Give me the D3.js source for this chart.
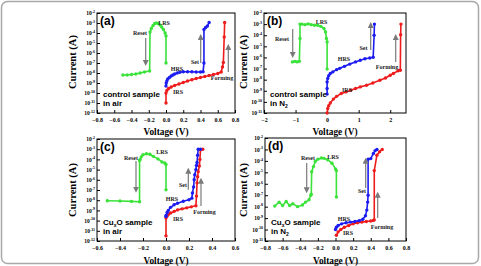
<!DOCTYPE html>
<html>
<head>
<meta charset="utf-8">
<script src="https://d3js.org/d3.v7.min.js"></script>
<style>
  body { margin: 0; background: #fff; }
  svg text { font-family: "Liberation Serif", "Times New Roman", serif; font-weight: bold; }
  .sans { font-family: "Liberation Sans", Arial, sans-serif !important; }
</style>
</head>
<body>
<script>
// ---- data (voltage in V, current as log10(A)) ----
var aGreenV = [0.0, 0.0, -0.01, -0.03, -0.05, -0.07, -0.09, -0.11, -0.13, -0.15, -0.17, -0.185, -0.19, -0.25, -0.3, -0.35, -0.4, -0.45, -0.5];
var aGreenI = [-7.0, -4.3, -4.0, -3.65, -3.4, -3.2, -3.05, -3.0, -3.05, -3.25, -3.55, -3.9, -7.8, -7.9, -8.0, -8.1, -8.15, -8.2, -8.2];
var aBlueV = [0.0, 0.003, 0.01, 0.02, 0.04, 0.06, 0.08, 0.1, 0.13, 0.16, 0.2, 0.25, 0.3, 0.35, 0.4, 0.43, 0.44, 0.44, 0.46, 0.48, 0.5];
var aBlueI = [-9.3, -9.0, -8.8, -8.6, -8.45, -8.3, -8.2, -8.1, -8.0, -7.92, -7.87, -7.87, -7.88, -7.9, -7.9, -7.88, -7.0, -3.65, -3.45, -3.3, -2.95];
var aRedV = [0.0, 0.0, 0.01, 0.03, 0.06, 0.1, 0.15, 0.2, 0.25, 0.3, 0.35, 0.4, 0.45, 0.5, 0.55, 0.6, 0.64, 0.655, 0.665, 0.675, 0.68];
var aRedI = [-11.0, -10.0, -9.75, -9.55, -9.4, -9.25, -9.1, -8.95, -8.8, -8.68, -8.55, -8.45, -8.35, -8.25, -8.15, -8.05, -7.9, -7.4, -6.95, -4.4, -2.95];

var bGreenV = [0.0, 0.0, -0.02, -0.05, -0.1, -0.2, -0.3, -0.4, -0.5, -0.6, -0.7, -0.8, -0.86, -0.86, -0.88, -0.95, -1.02, -1.1];
var bGreenI = [-7.05, -4.6, -4.3, -3.7, -3.4, -3.2, -3.1, -3.1, -3.05, -2.98, -3.05, -3.0, -3.0, -4.3, -6.35, -6.4, -6.35, -6.4];
var bBlueV = [0.0, 0.0, 0.0, 0.02, 0.05, 0.1, 0.18, 0.3, 0.4, 0.55, 0.72, 0.9, 1.05, 1.2, 1.35, 1.46, 1.49, 1.5];
var bBlueI = [-9.3, -8.8, -8.2, -7.9, -7.65, -7.45, -7.3, -7.1, -6.98, -6.8, -6.6, -6.4, -6.25, -6.12, -6.05, -5.98, -4.0, -3.0];
var bRedV = [0.0, 0.02, 0.05, 0.1, 0.2, 0.3, 0.45, 0.6, 0.75, 0.9, 1.05, 1.25, 1.45, 1.67, 1.85, 2.0, 2.1, 2.25, 2.32, 2.33, 2.34];
var bRedI = [-11.0, -10.6, -10.35, -10.1, -9.75, -9.5, -9.25, -9.1, -8.95, -8.8, -8.65, -8.5, -8.3, -8.05, -7.85, -7.6, -7.45, -7.2, -7.15, -3.95, -3.0];

var cGreenV = [0.0, 0.0, -0.01, -0.035, -0.07, -0.11, -0.14, -0.17, -0.2, -0.215, -0.225, -0.23, -0.23, -0.3, -0.4, -0.51];
var cGreenI = [-6.97, -4.5, -4.35, -4.25, -3.95, -3.7, -3.5, -3.45, -3.55, -3.75, -4.0, -4.1, -8.15, -8.12, -8.08, -8.05];
var cBlueV = [0.0, 0.0, 0.01, 0.02, 0.04, 0.07, 0.1, 0.15, 0.2, 0.225, 0.23, 0.24, 0.245, 0.25, 0.26, 0.265, 0.27, 0.275, 0.28, 0.3];
var cBlueI = [-9.6, -9.5, -9.2, -9.0, -8.7, -8.45, -8.3, -8.1, -7.95, -7.8, -7.3, -6.7, -6.0, -5.5, -5.0, -4.6, -4.3, -3.6, -3.0, -3.0];
var cRedV = [0.0, 0.0, 0.01, 0.02, 0.04, 0.07, 0.1, 0.14, 0.18, 0.22, 0.26, 0.265, 0.27, 0.275, 0.28, 0.29, 0.295, 0.3, 0.32];
var cRedI = [-11.5, -9.75, -9.55, -9.4, -9.25, -9.1, -8.95, -8.85, -8.75, -8.65, -8.55, -7.6, -6.3, -5.7, -5.2, -4.65, -4.0, -3.05, -3.0];

var dGreenV = [0.01, 0.01, 0.0, -0.04, -0.09, -0.13, -0.16, -0.2, -0.23, -0.25, -0.27, -0.275, -0.28, -0.3, -0.34, -0.375, -0.43, -0.485, -0.52, -0.56, -0.6, -0.64, -0.69];
var dGreenI = [-7.15, -4.85, -4.7, -4.2, -3.9, -3.78, -3.75, -3.85, -4.05, -4.5, -4.95, -6.9, -7.0, -7.4, -7.6, -7.85, -8.0, -7.75, -7.9, -7.55, -7.9, -7.6, -7.95];
var dBlueV = [0.0, 0.01, 0.03, 0.07, 0.12, 0.17, 0.22, 0.27, 0.31, 0.34, 0.355, 0.365, 0.37, 0.37, 0.4, 0.43, 0.45, 0.47];
var dBlueI = [-10.0, -9.8, -9.65, -9.5, -9.4, -9.35, -9.3, -9.22, -9.1, -8.8, -8.3, -7.6, -7.0, -3.85, -3.8, -3.35, -3.1, -3.0];
var dRedV = [0.01, 0.03, 0.06, 0.1, 0.15, 0.2, 0.25, 0.3, 0.35, 0.4, 0.43, 0.44, 0.44, 0.47, 0.5, 0.53];
var dRedI = [-10.5, -10.2, -10.0, -9.8, -9.65, -9.5, -9.4, -9.35, -9.3, -9.25, -9.2, -9.15, -4.85, -3.5, -3.2, -3.0];

var xTicksA = [-0.8, -0.6, -0.4, -0.2, 0.0, 0.2, 0.4, 0.6, 0.8];
var xTicksB = [-2, -1, 0, 1, 2];
var xTicksC = [-0.6, -0.4, -0.2, 0.0, 0.2, 0.4, 0.6];
var yTicksAC = [-12, -11, -10, -9, -8, -7, -6, -5, -4, -3, -2];
var yTicksBD = [-11, -10, -9, -8, -7, -6, -5, -4, -3, -2];
var sampleLabels = [["control  sample", "in air"], ["control  sample", "in N2"], ["CuxO sample", "in air"], ["CuxO sample", "in N2"]];

var green = "#3ae23a", blue = "#1c1cf0", red = "#ee1c1c", grey = "#7a7a7a";

var svg = d3.select("body").append("svg").attr("width", 481).attr("height", 266);

svg.append("defs").append("marker")
  .attr("id", "head").attr("viewBox", "0 0 10 10").attr("refX", 5).attr("refY", 5)
  .attr("markerWidth", 5).attr("markerHeight", 5).attr("orient", "auto-start-reverse")
  .append("path").attr("d", "M0,0L10,5L0,10z").attr("fill", grey);

// outer frame
svg.append("rect").attr("x", 1.5).attr("y", 1.5).attr("width", 477).attr("height", 262)
  .attr("rx", 6).attr("fill", "none").attr("stroke", "#a8a8a8").attr("stroke-width", 1.5);

var panels = [
  {tag: "(a)", box: [97, 13, 235, 113], xd: [-0.8, 0.8], yd: [-12, -2], xt: xTicksA, yt: yTicksAC, fmt: d3.format(".1f"),
   series: [[aGreenV, aGreenI, green], [aRedV, aRedI, red], [aBlueV, aBlueI, blue]],
   yTitle: [76, 62], xTitleY: 134.5, sample: 0,
   notes: [["LRS", 164, 25], ["Reset", 140, 35], ["HRS", 177, 71], ["Set", 195, 64], ["IRS", 178, 94], ["Forming", 222, 80]],
   arrows: [[145.7, 38, 145.7, 63], [200.7, 63, 200.7, 37], [228.3, 72, 228.3, 47]]},
  {tag: "(b)", box: [264, 13, 406, 113], xd: [-2, 2.5], yd: [-11, -2], xt: xTicksB, yt: yTicksBD, fmt: d3.format("d"),
   series: [[bGreenV, bGreenI, green], [bRedV, bRedI, red], [bBlueV, bBlueI, blue]],
   yTitle: [247, 62], xTitleY: 134.5, sample: 1,
   notes: [["LRS", 321.5, 24], ["Reset", 282, 40.5], ["HRS", 344, 61], ["Set", 363.5, 50], ["IRS", 347, 92], ["Forming", 387, 69]],
   arrows: [[292.7, 29, 292.7, 55], [370.7, 50, 370.7, 25], [395.7, 62, 395.7, 37]]},
  {tag: "(c)", box: [97, 139, 235, 241], xd: [-0.6, 0.6], yd: [-12, -2], xt: xTicksC, yt: yTicksAC, fmt: d3.format(".1f"),
   series: [[cGreenV, cGreenI, green], [cRedV, cRedI, red], [cBlueV, cBlueI, blue]],
   yTitle: [76, 190], xTitleY: 263.5, sample: 2,
   notes: [["LRS", 162, 154], ["Reset", 131, 160], ["HRS", 172, 201], ["Set", 183, 187], ["IRS", 178, 221], ["Forming", 204.5, 214]],
   arrows: [[136, 161, 136, 189.7], [188.3, 189.7, 188.3, 170.7], [201, 206, 201, 180.7]]},
  {tag: "(d)", box: [265, 138, 406, 241], xd: [-0.8, 0.8], yd: [-11, -2], xt: xTicksA, yt: yTicksBD, fmt: d3.format(".1f"),
   series: [[dGreenV, dGreenI, green], [dRedV, dRedI, red], [dBlueV, dBlueI, blue]],
   yTitle: [247, 190], xTitleY: 264, sample: 3,
   notes: [["LRS", 333, 159], ["Reset", 308, 160], ["HRS", 344, 221], ["Set", 362, 193], ["IRS", 348, 235], ["Forming", 382, 229]],
   arrows: [[306.7, 163, 306.7, 190.3], [365.7, 188, 365.7, 160.7], [377.7, 218, 377.7, 194.7]]}
];

panels.forEach(function(p) {
  var x = d3.scaleLinear().domain(p.xd).range([p.box[0], p.box[2]]);
  var y = d3.scaleLinear().domain(p.yd).range([p.box[3], p.box[1]]);
  var g = svg.append("g");

  // x axis
  var xa = g.append("g").attr("transform", "translate(0," + p.box[3] + ")")
    .call(d3.axisBottom(x).tickValues(p.xt).tickSize(-3).tickPadding(5).tickFormat(p.fmt));
  xa.select(".domain").remove();
  xa.selectAll("text").attr("font-size", 6).attr("font-family", "Liberation Serif").attr("font-weight", "bold");

  // y axis, 10^n labels
  var ya = g.append("g").attr("transform", "translate(" + p.box[0] + ",0)")
    .call(d3.axisLeft(y).tickValues(p.yt).tickSize(-3).tickPadding(3).tickFormat(""));
  ya.select(".domain").remove();
  ya.selectAll(".tick").each(function(d) {
    var t = d3.select(this).append("text").attr("x", -2).attr("dy", "0.32em")
      .attr("text-anchor", "end").attr("fill", "#000").attr("font-size", 5.5);
    t.append("tspan").text("10");
    t.append("tspan").attr("font-size", 4).attr("dy", -2.5).text(d);
  });

  g.append("rect").attr("x", p.box[0]).attr("y", p.box[1])
    .attr("width", p.box[2] - p.box[0]).attr("height", p.box[3] - p.box[1])
    .attr("fill", "none").attr("stroke", "#000").attr("stroke-width", 1);

  // curves
  var line = d3.line().x(function(d) { return x(d[0]); }).y(function(d) { return y(d[1]); });
  p.series.forEach(function(s) {
    var pts = s[0].map(function(v, i) { return [v, s[1][i]]; });
    g.append("path").datum(pts).attr("d", line)
      .attr("fill", "none").attr("stroke", s[2]).attr("stroke-width", 1.6).attr("stroke-linejoin", "round");
    g.selectAll(null).data(pts).enter().append("circle")
      .attr("cx", function(d) { return x(d[0]); }).attr("cy", function(d) { return y(d[1]); })
      .attr("r", 1.7).attr("fill", s[2]);
  });

  // arrows
  p.arrows.forEach(function(a) {
    g.append("line").attr("x1", a[0]).attr("y1", a[1]).attr("x2", a[2]).attr("y2", a[3])
      .attr("stroke", grey).attr("stroke-width", 1.2).attr("marker-end", "url(#head)");
  });

  // notes
  p.notes.forEach(function(n) {
    g.append("text").attr("x", n[1]).attr("y", n[2]).attr("text-anchor", "middle")
      .attr("font-size", 6).attr("fill", "#222").text(n[0]);
  });

  // panel tag
  g.append("text").attr("class", "sans").attr("x", p.box[0] + 3).attr("y", p.box[1] + 12)
    .attr("font-size", 12).text(p.tag);

  // sample label
  var lab = sampleLabels[p.sample];
  var t1 = g.append("text").attr("class", "sans").attr("x", p.box[0] + 6).attr("y", p.box[3] - 16)
    .attr("font-size", 8).attr("font-weight", "normal");
  if (lab[0].indexOf("Cux") === 0) {
    t1.append("tspan").text("Cu");
    t1.append("tspan").attr("font-size", 5).attr("dy", 2).text("x");
    t1.append("tspan").attr("dy", -2).text("O sample");
  } else {
    t1.text(lab[0]);
  }
  var t2 = g.append("text").attr("class", "sans").attr("x", p.box[0] + 6).attr("y", p.box[3] - 7)
    .attr("font-size", 8).attr("font-weight", "normal");
  if (lab[1] === "in N2") {
    t2.append("tspan").text("in N");
    t2.append("tspan").attr("font-size", 5).attr("dy", 2).text("2");
  } else {
    t2.text(lab[1]);
  }

  // axis titles
  var cx = (p.box[0] + p.box[2]) / 2;
  g.append("text").attr("x", cx).attr("y", p.xTitleY).attr("text-anchor", "middle")
    .attr("font-size", 11).attr("textLength", 45).attr("lengthAdjust", "spacingAndGlyphs").text("Voltage (V)");
  g.append("text").attr("transform", "translate(" + p.yTitle[0] + "," + p.yTitle[1] + ") rotate(-90)")
    .attr("text-anchor", "middle").attr("font-size", 11).attr("textLength", 54)
    .attr("lengthAdjust", "spacingAndGlyphs").text("Current (A)");
});
</script>
</body>
</html>
